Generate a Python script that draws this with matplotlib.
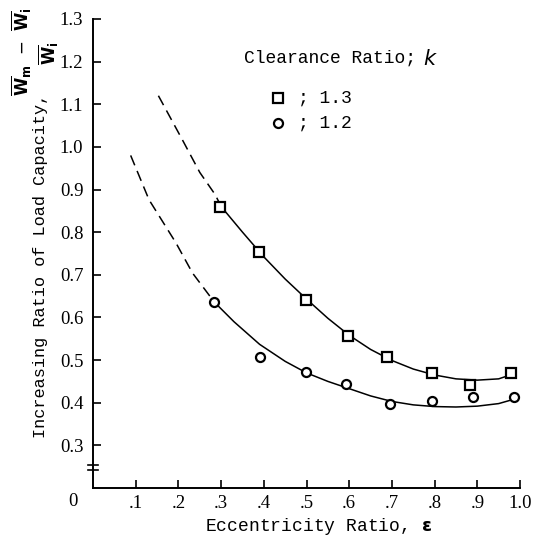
import numpy as np
import matplotlib.pyplot as plt

# measured points, clearance ratio k = 1.3 (squares) and k = 1.2 (circles)
eps_sq = [0.297, 0.388, 0.499, 0.597, 0.689, 0.793, 0.884, 0.98]
val_sq = [0.858, 0.753, 0.641, 0.556, 0.508, 0.469, 0.441, 0.469]
eps_ci = [0.284, 0.392, 0.498, 0.592, 0.696, 0.793, 0.89, 0.987]
val_ci = [0.636, 0.507, 0.471, 0.444, 0.398, 0.404, 0.413, 0.413]

# faired curves
fit_sq_x = [0.30, 0.35, 0.40, 0.45, 0.50, 0.55, 0.60, 0.65, 0.70, 0.75, 0.80, 0.85, 0.90, 0.95, 0.98]
fit_sq_y = [0.860, 0.800, 0.742, 0.690, 0.643, 0.598, 0.558, 0.525, 0.499, 0.479, 0.465, 0.456, 0.453, 0.456, 0.466]
ext_sq_x = [0.153, 0.21, 0.25, 0.286, 0.30]
ext_sq_y = [1.12, 1.015, 0.94, 0.888, 0.860]

fit_ci_x = [0.284, 0.33, 0.39, 0.45, 0.50, 0.55, 0.60, 0.65, 0.70, 0.75, 0.80, 0.85, 0.90, 0.95, 0.985]
fit_ci_y = [0.636, 0.590, 0.537, 0.497, 0.470, 0.450, 0.433, 0.416, 0.403, 0.395, 0.391, 0.390, 0.392, 0.398, 0.408]
ext_ci_x = [0.088, 0.131, 0.194, 0.233, 0.284]
ext_ci_y = [0.98, 0.876, 0.775, 0.704, 0.636]

xticks = [0.1, 0.2, 0.3, 0.4, 0.5, 0.6, 0.7, 0.8, 0.9, 1.0]
xlabels = ['.1', '.2', '.3', '.4', '.5', '.6', '.7', '.8', '.9', '1.0']
yticks = [0.3, 0.4, 0.5, 0.6, 0.7, 0.8, 0.9, 1.0, 1.1, 1.2, 1.3]

plt.rcParams['font.family'] = ['Liberation Mono', 'DejaVu Sans Mono']

fig = plt.figure(figsize=(5.35, 5.42), dpi=100)
ax = fig.add_axes([0.174, 0.0996, 0.798, 0.8654])
ax.set_xlim(0, 1.0)
ax.set_ylim(0.2, 1.3)

lw = 1.1
ax.plot(fit_sq_x, fit_sq_y, color='black', lw=lw)
ax.plot(ext_sq_x, ext_sq_y, color='black', lw=lw, dashes=(7, 4))
ax.plot(fit_ci_x, fit_ci_y, color='black', lw=lw)
ax.plot(ext_ci_x, ext_ci_y, color='black', lw=lw, dashes=(7, 4))

mk = dict(ls='none', ms=6.5, mfc='white', mec='black', mew=1.6)
ax.plot(eps_sq, val_sq, marker='s', **mk)
ax.plot(eps_ci, val_ci, marker='o', **mk)

for s in ['top', 'right']:
    ax.spines[s].set_visible(False)
for s in ['left', 'bottom']:
    ax.spines[s].set_linewidth(1.4)

ax.set_xticks(xticks)
ax.set_xticklabels(xlabels, family='Liberation Serif', fontsize=13.5)
ax.set_yticks(yticks)
ax.set_yticklabels(['%.1f' % v for v in yticks], family='Liberation Serif', fontsize=13.5)
ax.tick_params(direction='in', length=6, width=1.2)
ax.tick_params(axis='y', pad=7)
ax.tick_params(axis='x', pad=5)

# axis break mark
ax.plot([-0.012, 0.012], [0.242, 0.242], color='black', lw=1.2, clip_on=False)
ax.plot([-0.012, 0.012], [0.255, 0.255], color='black', lw=1.2, clip_on=False)

fig.text(73 / 535, 1 - 502 / 542, '0', fontsize=13.5, family='Liberation Serif',
         ha='center', va='center')

ax.set_xlabel(r'Eccentricity Ratio, $\mathbf{\epsilon}$', fontsize=13)
ax.xaxis.label.set_va('center')
ax.xaxis.set_label_coords(0.527, -0.083)
fig.text(0.075, 0.509, 'Increasing Ratio of Load Capacity,', rotation=90,
         fontsize=12.2, ha='center', va='center')
fig.text(22 / 535, 1 - 52 / 542,
         r'$\overline{\mathbf{W}}_\mathbf{m}$ $-$ $\overline{\mathbf{W}}_\mathbf{i}$',
         rotation=90, fontsize=12, ha='center', va='center')
fig.text(49 / 535, 1 - 53 / 542, r'$\overline{\mathbf{W}}_\mathbf{i}$',
         rotation=90, fontsize=12, ha='center', va='center')

# legend
ax.text(0.354, 1.209, 'Clearance Ratio;', fontsize=13, va='center')
ax.text(0.772, 1.205, r'$\mathbf{\mathit{k}}$', fontsize=15, va='center')
ax.plot([0.432], [1.115], marker='s', **mk)
ax.plot([0.432], [1.056], marker='o', **mk)
ax.text(0.479, 1.115, '; 1.3', fontsize=13, va='center')
ax.text(0.479, 1.056, '; 1.2', fontsize=13, va='center')

fig.savefig('out.png', dpi=100)
